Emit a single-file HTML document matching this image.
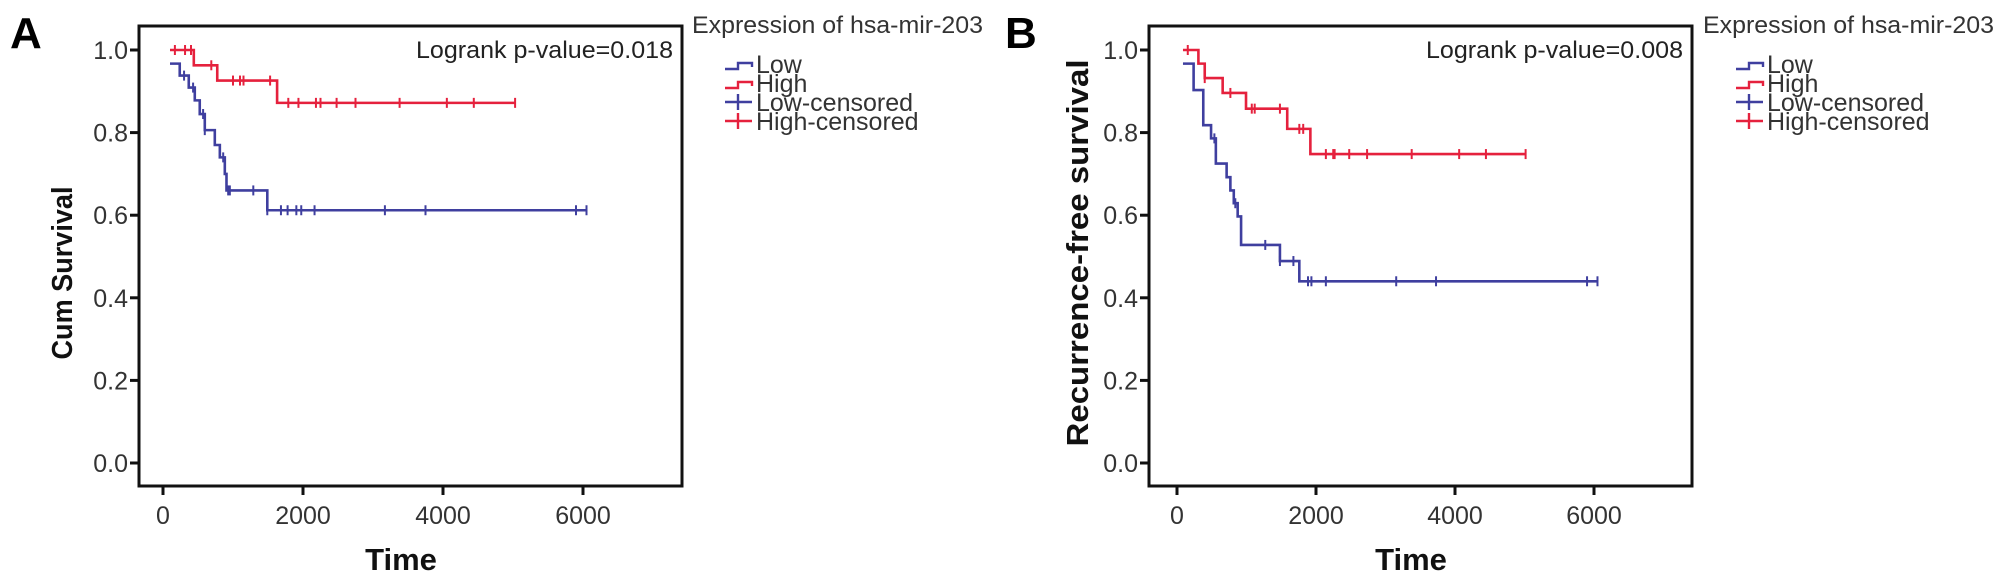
<!DOCTYPE html>
<html><head><meta charset="utf-8"><style>
html,body{margin:0;padding:0;background:#fff;}
svg{display:block;font-family:"Liberation Sans",Arial,sans-serif;}
</style></head><body>
<svg id="chart" width="2008" height="584" viewBox="0 0 2008 584" xmlns="http://www.w3.org/2000/svg"></svg>
<script>
// ---- Panel A data ----
const aLowTimes   = [100, 239, 368, 454, 525, 597, 740, 812, 883, 907, 1490];
const aLowSurv    = [0.967, 0.938, 0.909, 0.878, 0.845, 0.806, 0.77, 0.74, 0.70, 0.66, 0.612];
const aLowCens    = [301, 430, 573, 597, 860, 931, 955, 1290, 1490, 1685, 1780, 1905, 1975, 2165, 3170, 3750, 5900, 6050];
const aLowEnd     = 6050;
const aHighTimes  = [100, 440, 775, 1630];
const aHighSurv   = [1.0, 0.963, 0.926, 0.872];
const aHighCens   = [170, 315, 400, 690, 1000, 1100, 1150, 1530, 1790, 1935, 2185, 2250, 2480, 2750, 3380, 4055, 4440, 5030];
const aHighEnd    = 5030;
// ---- Panel B data ----
const bLowTimes   = [86, 239, 378, 490, 559, 714, 768, 817, 873, 922, 1481, 1760];
const bLowSurv    = [0.967, 0.903, 0.818, 0.786, 0.725, 0.692, 0.66, 0.629, 0.597, 0.528, 0.489, 0.44];
const bLowCens    = [538, 839, 1270, 1481, 1675, 1885, 1934, 2142, 3154, 3727, 5900, 6050];
const bLowEnd     = 6050;
const bHighTimes  = [86, 308, 399, 657, 993, 1586, 1919];
const bHighSurv   = [1.0, 0.967, 0.932, 0.896, 0.858, 0.809, 0.748];
const bHighCens   = [155, 399, 768, 1076, 1118, 1481, 1760, 1816, 2142, 2248, 2268, 2478, 2735, 3377, 4060, 4445, 5016];
const bHighEnd    = 5016;
// ---- axes ----
const yTicks = [0.0, 0.2, 0.4, 0.6, 0.8, 1.0];
const yTickLabels = ["0.0","0.2","0.4","0.6","0.8","1.0"];
const xTicks = [0, 2000, 4000, 6000];
const xTickLabels = ["0","2000","4000","6000"];
const legendLabels = ["Low","High","Low-censored","High-censored"];

const NS = "http://www.w3.org/2000/svg";
const svg = document.getElementById('chart');
const BLUE = "#3f3f9f", RED = "#e5213d";
function mk(tag, attrs, parent){
  const e = document.createElementNS(NS, tag);
  for (const k in attrs) e.setAttribute(k, attrs[k]);
  (parent||svg).appendChild(e);
  return e;
}
function panel(opt){
  const g = mk('g', {});
  
  
  const xs = t => opt.x0 + t * opt.kx;
  const ys = v => 463 - v * 413;
  const box = mk('rect', {x: opt.left, y: 26, width: 543, height: 460, fill: 'none', stroke: '#111', 'stroke-width': 3}, g);
  
  
  yTicks.forEach((v, i) => {
    const tk = mk('line', {x1: opt.left - 9, x2: opt.left, y1: ys(v), y2: ys(v), stroke: '#111', 'stroke-width': 3}, g);
    
    
    const lb = mk('text', {x: opt.left - 11, y: ys(v) + 9, 'text-anchor': 'end', 'font-size': 25, fill: '#333'}, g);
    lb.textContent = yTickLabels[i];
    
    
  });
  xTicks.forEach((t, i) => {
    const tk = mk('line', {x1: xs(t), x2: xs(t), y1: 486, y2: 495, stroke: '#111', 'stroke-width': 3}, g);
    
    
    const lb = mk('text', {x: xs(t), y: 524, 'text-anchor': 'middle', 'font-size': 25, fill: '#333'}, g);
    lb.textContent = xTickLabels[i];
    
    
  });
  const xt = mk('text', {x: opt.left + 262, y: 570, 'text-anchor': 'middle', 'font-size': 31, 'font-weight': 'bold', fill: '#111'}, g);
  xt.textContent = 'Time';
  
  
  const yt = mk('text', {x: 0, y: 0, 'text-anchor': 'middle', 'font-size': opt.ytSize, 'font-weight': 'bold', fill: '#111', textLength: opt.ytLen, lengthAdjust: 'spacingAndGlyphs', transform: `translate(${opt.ytX},${opt.ytY}) rotate(-90)`}, g);
  yt.textContent = opt.ytitle;
  
  
  const pl = mk('text', {x: opt.letterX, y: 48, 'font-size': 44, 'font-weight': 'bold', fill: '#000'}, g);
  pl.textContent = opt.letter;
  
  
  const lr = mk('text', {x: opt.left + 534, y: 58, 'text-anchor': 'end', 'font-size': 24, fill: '#222', textLength: 257, lengthAdjust: 'spacingAndGlyphs'}, g);
  lr.textContent = opt.logrank;
  
  
  function curve(times, surv, cens, end, color, nm){
    let d = `M${xs(times[0])},${ys(surv[0])}`;
    for (let i = 1; i < times.length; i++){
      d += ` H${xs(times[i])} V${ys(surv[i])}`;
    }
    d += ` H${xs(end)}`;
    const p = mk('path', {d: d, fill: 'none', stroke: color, 'stroke-width': 2.6}, g);
    
    
    cens.forEach(t => {
      let v = surv[0];
      for (let i = 0; i < times.length; i++) if (times[i] <= t) v = surv[i];
      const c = mk('line', {x1: xs(t), x2: xs(t), y1: ys(v) - 5, y2: ys(v) + 5, stroke: color, 'stroke-width': 2}, g);
      
      
    });
  }
  curve(opt.lowT, opt.lowS, opt.lowC, opt.lowE, BLUE, 'low');
  curve(opt.highT, opt.highS, opt.highC, opt.highE, RED, 'high');
  const lg = mk('g', {}, g);
  
  
  const lt = mk('text', {x: opt.legX, y: 33, 'font-size': 24, fill: '#333', textLength: 291, lengthAdjust: 'spacingAndGlyphs'}, lg);
  lt.textContent = 'Expression of hsa-mir-203';
  
  
  const cols = [BLUE, RED, BLUE, RED];
  legendLabels.forEach((lab, i) => {
    const cy = 64 + i * 19;
    const ix = opt.legX + 33;
    if (i < 2){
      const ic = mk('path', {d: `M${ix},${cy+5} H${ix+13} V${cy-1} H${ix+27} V${cy+3}`, fill: 'none', stroke: cols[i], 'stroke-width': 2.4}, lg);
      
      
    } else {
      const ic = mk('path', {d: `M${ix},${cy} H${ix+27} M${ix+13},${cy-8} V${cy+8}`, fill: 'none', stroke: cols[i], 'stroke-width': 2.4}, lg);
      
      
    }
    const tx = mk('text', {x: ix + 31, y: cy + 9, 'font-size': 25, fill: '#333'}, lg);
    tx.textContent = lab;
    
    
  });
}
panel({name: 'panel-a-overall-survival', left: 139, x0: 163, kx: 0.07, ytitle: 'Cum Survival', ytX: 72, ytY: 273, ytSize: 29, ytLen: 173,
  letter: 'A', letterX: 10, logrank: 'Logrank p-value=0.018', legX: 692,
  lowT: aLowTimes, lowS: aLowSurv, lowC: aLowCens, lowE: aLowEnd,
  highT: aHighTimes, highS: aHighSurv, highC: aHighCens, highE: aHighEnd});
panel({name: 'panel-b-recurrence-free-survival', left: 1149, x0: 1177, kx: 0.0695, ytitle: 'Recurrence-free survival', ytX: 1088, ytY: 253, ytSize: 31, ytLen: 387,
  letter: 'B', letterX: 1005, logrank: 'Logrank p-value=0.008', legX: 1703,
  lowT: bLowTimes, lowS: bLowSurv, lowC: bLowCens, lowE: bLowEnd,
  highT: bHighTimes, highS: bHighSurv, highC: bHighCens, highE: bHighEnd});
</script>
</body></html>
